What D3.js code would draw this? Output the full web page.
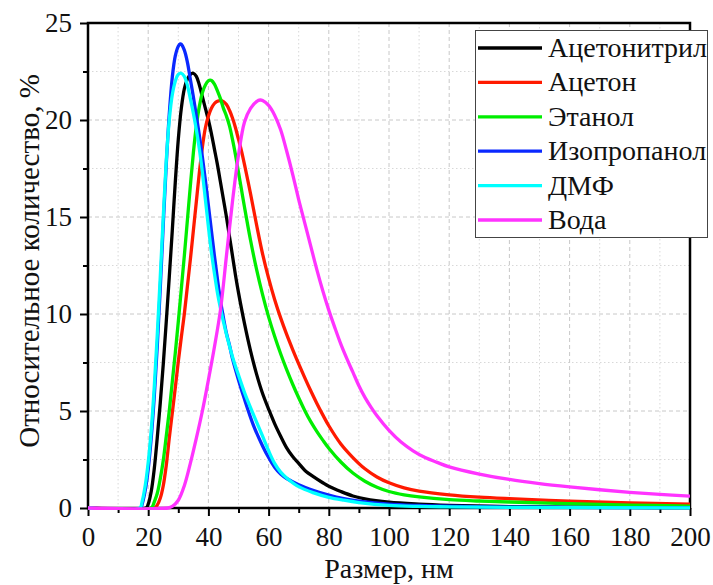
<!DOCTYPE html>
<html><head><meta charset="utf-8">
<script src="https://cdn.jsdelivr.net/npm/d3@7"></script>
<style>
html,body{margin:0;padding:0;background:#fff;}
svg{display:block;}
</style></head>
<body><svg id="chart" width="713" height="585"></svg>
<script>
// ---------- data ----------
const seriesNames = ["Ацетонитрил","Ацетон","Этанол","Изопропанол","ДМФ","Вода"];
const seriesColors = ["#000000","#ff1a00","#00ee00","#0a28ff","#00ffff","#ff33ff"];
const xTicks = [0,20,40,60,80,100,120,140,160,180,200];
const yTicks = [0,5,10,15,20,25];
const xLabel = "Размер, нм";
const yLabel = "Относительное количество, %";

// [size, %] pairs
const acetonitrile = [[0,0],[19.3,0],[20,0.2],[21,0.85],[22,2.0],[23,3.6],[24,5.4],[25,7.4],[26,9.6],[27,11.9],[28,14.3],[29,16.8],[30,19.0],[31,20.6],[32,21.6],[33,22.1],[34,22.35],[35,22.41],[36,22.25],[37,21.8],[38,21.2],[39,20.6],[40,20.0],[41,19.3],[42,18.5],[43,17.7],[44,16.8],[45,15.9],[46,15.0],[47,14.0],[48,13.0],[49,12.0],[50,11.1],[52,9.5],[54,8.1],[56,6.9],[58,5.9],[60,5.1],[62,4.35],[64,3.7],[66,3.1],[68,2.65],[70,2.3],[72,1.95],[75,1.6],[78,1.3],[80,1.12],[84,0.85],[88,0.62],[92,0.47],[100,0.3],[110,0.2],[120,0.14],[140,0.07],[160,0.04],[180,0.03],[200,0.02]];
const acetone = [[0,0],[22,0],[23,0.15],[24,0.5],[25,1.15],[26,2.2],[27,3.6],[28,4.9],[29,6.2],[30,7.55],[31,8.8],[32,10.0],[33,11.4],[34,12.8],[35,14.3],[36,15.8],[37,17.3],[38,18.6],[39,19.6],[40,20.2],[41,20.6],[42,20.85],[43,20.97],[44,21.0],[45,20.95],[46,20.8],[47,20.5],[48,20.1],[49,19.6],[50,19.0],[51,18.4],[52,17.7],[54,16.2],[56,14.6],[58,13.1],[60,11.85],[62,10.75],[64,9.8],[66,8.95],[68,8.17],[70,7.43],[72,6.72],[74,6.04],[76,5.4],[78,4.8],[80,4.24],[84,3.3],[88,2.6],[92,2.02],[96,1.6],[100,1.3],[105,1.04],[110,0.87],[120,0.68],[130,0.56],[140,0.48],[160,0.35],[180,0.26],[200,0.2]];
const ethanol = [[0,0],[20.9,0],[21.5,0.1],[22,0.3],[23,0.75],[24,1.5],[25,2.45],[26,3.7],[27,5.0],[28,6.5],[29,8.0],[30,9.6],[31,11.3],[32,13.0],[33,14.8],[34,16.6],[35,18.3],[36,19.7],[37,20.7],[38,21.4],[39,21.8],[40,22.02],[40.6,22.06],[41,22.04],[42,21.85],[43,21.5],[44,21.1],[45,20.6],[46,20.2],[47,19.7],[48,19.0],[49,18.2],[50,17.3],[51,16.4],[52,15.5],[54,13.8],[56,12.3],[58,11.0],[60,9.85],[62,8.85],[64,7.95],[66,7.13],[68,6.38],[70,5.68],[72,5.03],[74,4.45],[76,3.95],[78,3.5],[80,3.08],[84,2.37],[88,1.8],[92,1.38],[96,1.07],[100,0.85],[105,0.68],[110,0.57],[120,0.43],[130,0.36],[140,0.31],[160,0.22],[180,0.15],[200,0.1]];
const isopropanol = [[0,0],[17.5,0],[18,0.2],[19,0.9],[20,2.0],[21,3.6],[22,5.7],[23,8.3],[24,11.3],[25,14.6],[26,17.7],[27,20.3],[28,22.2],[29,23.3],[30,23.8],[30.65,23.92],[31,23.9],[32,23.6],[33,23.0],[34,22.1],[35,21.2],[36,20.2],[37,19.2],[38,18.1],[39,16.9],[40,15.6],[41,14.3],[42,13.0],[43,11.8],[44,10.7],[45,9.8],[46,9.0],[47,8.4],[48,7.7],[50,6.6],[52,5.6],[55,4.25],[58,3.2],[60,2.6],[62,2.1],[64,1.75],[66,1.52],[70,1.2],[75,0.9],[80,0.66],[85,0.48],[90,0.36],[100,0.2],[110,0.13],[120,0.09],[140,0.05],[160,0.03],[200,0.02]];
const dmf = [[0,0],[17.2,0],[18,0.35],[19,1.15],[20,2.35],[21,4.0],[22,6.2],[23,8.9],[24,11.9],[25,15.0],[26,17.9],[27,20.0],[28,21.3],[29,22.0],[30,22.35],[31,22.41],[32,22.25],[33,21.8],[34,21.1],[35,20.35],[36,19.5],[37,18.5],[38,17.3],[39,15.9],[40,14.5],[41,13.2],[42,12.1],[43,11.1],[44,10.3],[45,9.6],[46,8.95],[48,7.8],[50,6.85],[52,5.95],[55,4.8],[58,3.7],[60,2.95],[62,2.3],[64,1.85],[66,1.55],[70,1.1],[75,0.78],[80,0.55],[85,0.4],[90,0.28],[100,0.13],[110,0.08],[120,0.06],[140,0.03],[200,0.01]];
const water = [[0,0],[26.5,0],[28,0.08],[30,0.4],[32,1.15],[34,2.3],[36,3.6],[38,5.0],[40,6.6],[42,8.3],[44,10.2],[46,13.0],[48,15.8],[50,18.2],[52,19.9],[54,20.6],[56,20.95],[57.2,21.03],[58,21.0],[60,20.75],[62,20.25],[64,19.5],[66,18.4],[68,17.2],[70,15.9],[72,14.7],[74,13.5],[76,12.3],[78,11.2],[80,10.2],[82,9.3],[84,8.45],[86,7.7],[88,7.0],[90,6.3],[92,5.7],[94,5.2],[96,4.75],[100,4.0],[104,3.4],[108,2.95],[112,2.6],[116,2.35],[120,2.12],[130,1.75],[140,1.47],[150,1.26],[160,1.09],[170,0.94],[180,0.81],[190,0.7],[200,0.61]];
const seriesData = [acetonitrile, acetone, ethanol, isopropanol, dmf, water];

// ---------- layout ----------
const FONT = '"Liberation Serif"';
const L = 88, R = 690, T = 23, B = 508;
const svg = d3.select("#chart");
const x = d3.scaleLinear().domain([0,200]).range([L,R]);
const y = d3.scaleLinear().domain([0,25]).range([B,T]);

function serif(sel, size){
  return sel.attr("font-family","Liberation Serif").style("font-family",FONT)
    .style("font-size",size+"px").style("fill","#111");
}

// grid
const xMinor = d3.range(10,200,20);
const yMinor = d3.range(2.5,25,5);
const grid = svg.append("g");
grid.selectAll(".gxm").data(xMinor).join("line")
  .attr("x1",d=>x(d)).attr("x2",d=>x(d)).attr("y1",T).attr("y2",B)
  .attr("stroke","#d8d8d8").attr("stroke-width",1).attr("stroke-dasharray","1.5,2.5");
grid.selectAll(".gym").data(yMinor).join("line")
  .attr("x1",L).attr("x2",R).attr("y1",d=>y(d)).attr("y2",d=>y(d))
  .attr("stroke","#d8d8d8").attr("stroke-width",1).attr("stroke-dasharray","1.5,2.5");
grid.selectAll(".gx").data(xTicks.slice(1,-1)).join("line")
  .attr("x1",d=>x(d)).attr("x2",d=>x(d)).attr("y1",T).attr("y2",B)
  .attr("stroke","#c8c8c8").attr("stroke-width",1).attr("stroke-dasharray","4,3");
grid.selectAll(".gy").data(yTicks.slice(1,-1)).join("line")
  .attr("x1",L).attr("x2",R).attr("y1",d=>y(d)).attr("y2",d=>y(d))
  .attr("stroke","#c8c8c8").attr("stroke-width",1).attr("stroke-dasharray","4,3");

// axes
const xAxis = svg.append("g").attr("transform",`translate(0,${B})`)
  .call(d3.axisBottom(x).tickValues(xTicks).tickSize(8).tickPadding(11).tickFormat(d3.format("d")));
const xAxisMinor = svg.append("g").attr("transform",`translate(0,${B})`)
  .call(d3.axisBottom(x).tickValues(xMinor).tickSize(5).tickFormat(""));
const yAxis = svg.append("g").attr("transform",`translate(${L},0)`)
  .call(d3.axisLeft(y).tickValues(yTicks).tickSize(8).tickPadding(8).tickFormat(d3.format("d")));
const yAxisMinor = svg.append("g").attr("transform",`translate(${L},0)`)
  .call(d3.axisLeft(y).tickValues(yMinor).tickSize(5).tickFormat(""));
[xAxis,xAxisMinor,yAxis,yAxisMinor].forEach(g=>{
  g.attr("font-family","Liberation Serif");
  g.select(".domain").remove();
  g.selectAll(".tick line").attr("stroke","#000").attr("stroke-width",2);
  serif(g.selectAll(".tick text"), 27);
});
// frame
svg.append("rect").attr("x",L).attr("y",T).attr("width",R-L).attr("height",B-T)
  .attr("fill","none").attr("stroke","#000").attr("stroke-width",2.5);

// curves
svg.append("clipPath").attr("id","clip").append("rect")
  .attr("x",L).attr("y",T-5).attr("width",R-L).attr("height",B-T+7);
const line = d3.line().x(d=>x(d[0])).y(d=>y(d[1])).curve(d3.curveCatmullRom.alpha(0.5));
const curves = svg.append("g").attr("clip-path","url(#clip)");
seriesData.forEach((s,i)=>{
  curves.append("path").datum(s).attr("d",line)
    .attr("fill","none").attr("stroke",seriesColors[i]).attr("stroke-width",3.3)
    .attr("stroke-linejoin","round");
});

// axis titles
serif(svg.append("text").attr("x",389).attr("y",578).attr("text-anchor","middle"), 28).text(xLabel);
serif(svg.append("text").attr("transform",`translate(39,261) rotate(-90)`).attr("text-anchor","middle"), 29).text(yLabel);

// legend
const lg = svg.append("g");
lg.append("rect").attr("x",475.5).attr("y",30.5).attr("width",232).attr("height",207)
  .attr("fill","#fff").attr("stroke","#444").attr("stroke-width",1);
seriesNames.forEach((n,i)=>{
  const cy = 48 + i*34.4;
  lg.append("line").attr("x1",478).attr("x2",542).attr("y1",cy).attr("y2",cy)
    .attr("stroke",seriesColors[i]).attr("stroke-width",3.3);
  serif(lg.append("text").attr("x",548).attr("y",cy+9), 28).text(n);
});
</script></body></html>
